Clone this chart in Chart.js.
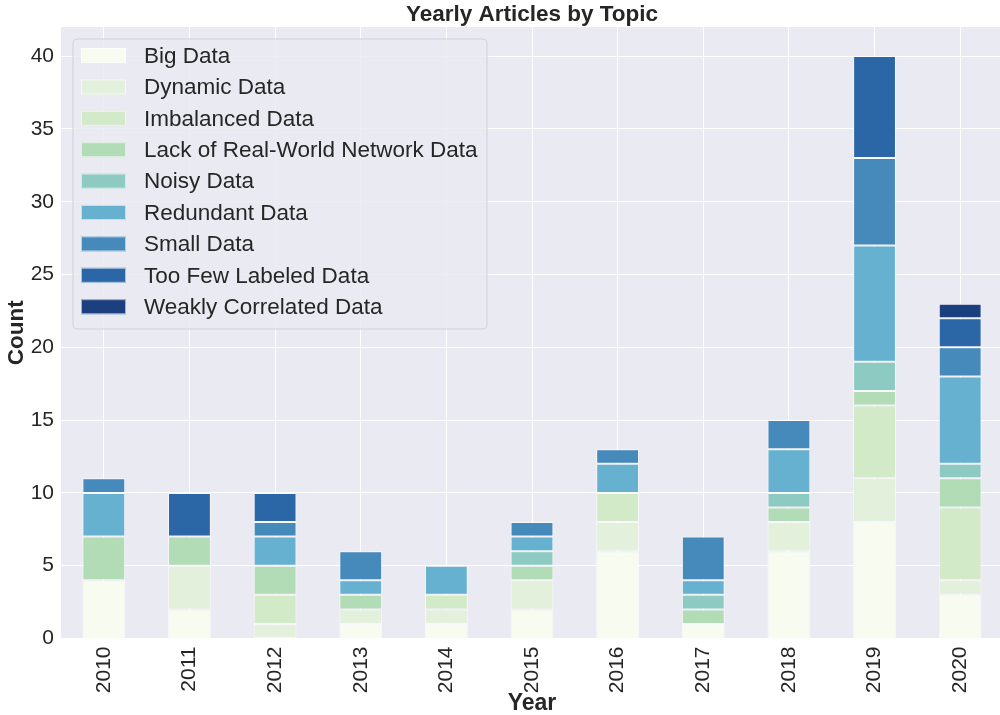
<!DOCTYPE html>
<html>
<head>
<meta charset="utf-8">
<script src="https://cdn.jsdelivr.net/npm/chart.js@4.4.1/dist/chart.umd.min.js"></script>
<style>
  html, body { margin: 0; padding: 0; background: #ffffff; overflow: hidden; width: 1000px; height: 715px; }
  canvas { display: block; }
</style>
</head>
<body>
<canvas id="c" width="1003" height="715"></canvas>
<script>
const years = ["2010","2011","2012","2013","2014","2015","2016","2017","2018","2019","2020"];
const topics = ["Big Data","Dynamic Data","Imbalanced Data","Lack of Real-World Network Data","Noisy Data","Redundant Data","Small Data","Too Few Labeled Data","Weakly Correlated Data"];
const bigData      = [4,2,0,1,1,2,6,1,6,8,3];
const dynamicData  = [0,3,1,1,1,2,2,0,2,3,1];
const imbalanced   = [0,0,2,0,1,0,2,0,0,5,5];
const lackRealWorld= [3,2,2,1,0,1,0,1,1,1,2];
const noisyData    = [0,0,0,0,0,1,0,1,1,2,1];
const redundant    = [3,0,2,1,2,1,2,1,3,8,6];
const smallData    = [1,0,1,2,0,1,1,3,2,6,2];
const tooFewLabeled= [0,3,2,0,0,0,0,0,0,7,2];
const weaklyCorr   = [0,0,0,0,0,0,0,0,0,0,1];
const yTicks = [0,5,10,15,20,25,30,35,40];
const colors = ["#f7fbf0","#e3f1dc","#d2eac8","#b2dcb6","#8ccac2","#67b1d0","#4689bb","#2b66a7","#1b3f7f"];

const series = [bigData,dynamicData,imbalanced,lackRealWorld,noisyData,redundant,smallData,tooFewLabeled,weaklyCorr];
const FONT = "'Liberation Sans', Arial, sans-serif";
const TXT = "#262626";

const bgPlugin = {
  id: 'bg',
  beforeDraw(chart) {
    const {ctx, chartArea: a} = chart;
    ctx.save();
    ctx.fillStyle = '#eaeaf2';
    ctx.fillRect(a.left, a.top, a.right - a.left, a.bottom - a.top);
    ctx.restore();
  }
};

const legendPlugin = {
  id: 'innerLegend',
  afterDraw(chart) {
    const ctx = chart.ctx;
    const x0 = 73, y0 = 39, w = 414, h = 290, r = 4;
    ctx.save();
    ctx.beginPath();
    ctx.moveTo(x0 + r, y0);
    ctx.lineTo(x0 + w - r, y0);
    ctx.arcTo(x0 + w, y0, x0 + w, y0 + r, r);
    ctx.lineTo(x0 + w, y0 + h - r);
    ctx.arcTo(x0 + w, y0 + h, x0 + w - r, y0 + h, r);
    ctx.lineTo(x0 + r, y0 + h);
    ctx.arcTo(x0, y0 + h, x0, y0 + h - r, r);
    ctx.lineTo(x0, y0 + r);
    ctx.arcTo(x0, y0, x0 + r, y0, r);
    ctx.closePath();
    ctx.fillStyle = 'rgba(234,234,242,0.85)';
    ctx.fill();
    ctx.strokeStyle = 'rgba(204,204,212,0.8)';
    ctx.lineWidth = 1;
    ctx.stroke();
    ctx.font = "22.5px " + FONT;
    ctx.textBaseline = 'middle';
    ctx.textAlign = 'left';
    chart.data.datasets.forEach((ds, i) => {
      const cy = 55.5 + i * 31.4;
      ctx.fillStyle = ds.backgroundColor;
      ctx.fillRect(81, cy - 7.5, 45, 15);
      ctx.strokeStyle = 'rgba(255,255,255,0.6)';
      ctx.strokeRect(81.5, cy - 7, 44, 14);
      ctx.fillStyle = TXT;
      ctx.fillText(ds.label, 144, cy + 1);
    });
    ctx.restore();
  }
};

new Chart(document.getElementById('c'), {
  type: 'bar',
  data: {
    labels: years,
    datasets: topics.map((t, i) => ({
      label: t,
      data: series[i],
      backgroundColor: colors[i],
      borderColor: 'rgba(255,255,255,0.65)',
      borderWidth: c => (c.raw ? 1 : 0),
      borderSkipped: false,
      barPercentage: 0.5,
      categoryPercentage: 1.0
    }))
  },
  options: {
    responsive: false,
    animation: false,
    devicePixelRatio: 1,
    layout: { padding: 0 },
    plugins: {
      legend: { display: false },
      tooltip: { enabled: false },
      title: {
        display: true,
        fullSize: false,
        text: 'Yearly Articles by Topic',
        color: TXT,
        font: { family: FONT, size: 22.5, weight: 'bold', lineHeight: 1.0 },
        padding: { top: 4, bottom: 0.5 }
      }
    },
    scales: {
      x: {
        stacked: true,
        grid: { color: '#ffffff', lineWidth: 1, offset: false, drawTicks: false },
        border: { display: false },
        ticks: { color: TXT, font: { family: FONT, size: 21 }, minRotation: 90, maxRotation: 90, padding: 8, autoSkip: false },
        title: { display: true, text: 'Year', color: TXT, font: { family: FONT, size: 23, weight: 'bold', lineHeight: 1.0 }, padding: { top: 0, bottom: 0 } },
        afterFit(s) { s.height = 76.5; }
      },
      y: {
        stacked: true,
        min: 0,
        max: 42,
        afterBuildTicks(s) { s.ticks = yTicks.map(v => ({ value: v })); },
        grid: { color: '#ffffff', lineWidth: 1, drawTicks: false },
        border: { display: false },
        ticks: { color: TXT, font: { family: FONT, size: 21 }, padding: 7 },
        title: { display: true, text: 'Count', color: TXT, font: { family: FONT, size: 22.5, weight: 'bold', lineHeight: 1.2 }, padding: { top: 3, bottom: 0 } },
        afterFit(s) { s.width = 61; }
      }
    }
  },
  plugins: [bgPlugin, legendPlugin]
});
</script>
</body>
</html>
